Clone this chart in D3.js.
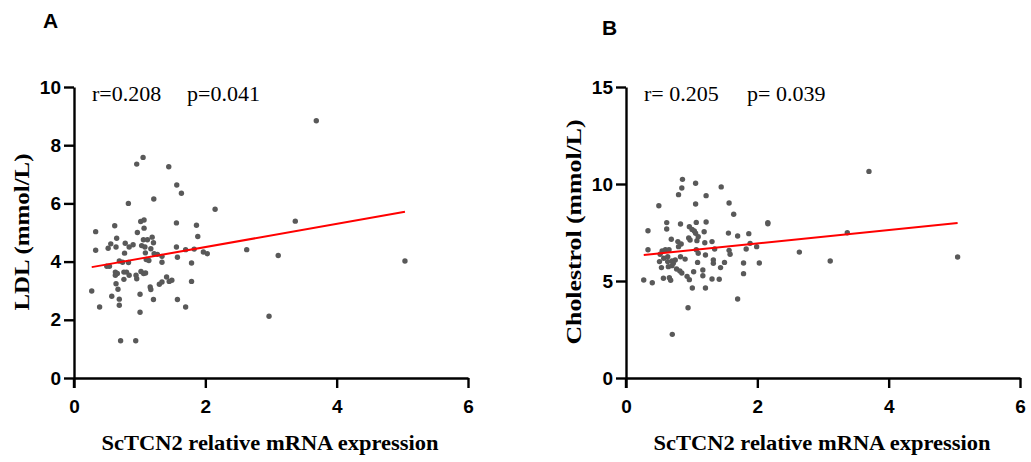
<!DOCTYPE html>
<html>
<head>
<meta charset="utf-8">
<script src="https://cdn.jsdelivr.net/npm/d3@7"></script>
<style>
  body { margin: 0; background: #fff; }
  svg { display: block; }
</style>
</head>
<body>
<script>
// LDL vs ScTCN2 (panel A)
const ldlX = [1.052,0.955,1.443,1.565,1.636,1.215,0.828,2.149,1.016,1.067,1.56,1.067,1.865,0.33,0.62,0.965,1.885,0.65,0.56,0.52,0.64,0.78,0.84,0.90,0.33,0.77,1.057,1.118,1.19,1.21,1.03,1.08,1.17,1.22,1.27,1.34,1.087,1.10,1.14,1.34,1.56,1.575,1.70,1.83,1.97,2.03,1.79,2.63,0.50,0.54,0.69,0.74,0.83,0.63,0.63,0.66,0.76,0.80,0.84,0.76,0.945,0.955,1.02,1.06,1.09,0.64,0.67,0.27,0.575,0.69,0.69,1.006,1.16,1.17,1.21,1.30,1.34,1.41,1.45,1.49,1.575,1.79,1.70,0.39,1.006,0.71,0.94,3.69,3.37,3.11,2.97,5.04];
const ldlY = [7.58,7.35,7.26,6.63,6.35,6.15,6.00,5.80,5.38,5.43,5.33,5.15,5.25,5.03,5.23,5.0,4.86,4.80,4.61,4.46,4.50,4.63,4.50,4.58,4.39,4.29,4.75,4.75,4.84,4.65,4.55,4.50,4.44,4.27,4.25,4.18,4.30,4.07,4.04,3.98,4.50,4.15,4.41,4.43,4.33,4.27,3.95,4.41,3.84,3.84,4.02,3.98,3.97,3.64,3.53,3.59,3.64,3.64,3.53,3.39,3.53,3.41,3.66,3.59,3.61,3.24,3.05,2.99,2.81,2.71,2.50,2.88,3.13,3.04,2.70,3.22,3.30,3.47,3.32,3.36,2.70,3.32,2.44,2.44,2.26,1.28,1.28,8.84,5.39,4.21,2.12,4.02];
const ldlFit = [[0.27, 3.81], [5.04, 5.71]];

// Cholestrol vs ScTCN2 (panel B)
const cholX = [0.86,1.06,0.85,1.45,0.80,1.22,0.50,1.06,1.57,1.64,0.62,0.62,0.83,1.07,1.22,0.335,0.965,1.006,1.04,1.06,1.19,1.56,1.70,1.87,0.69,0.79,0.84,0.955,0.976,1.08,1.10,1.20,1.31,1.89,0.335,0.55,0.60,0.655,0.80,1.07,1.10,1.21,1.35,1.57,1.585,1.83,1.99,0.52,0.575,0.635,0.51,0.635,0.70,0.75,0.54,0.645,0.70,0.77,0.82,0.85,0.72,0.83,0.90,1.03,1.09,1.17,1.17,1.33,1.33,1.44,1.50,1.31,1.42,0.93,0.965,0.57,0.66,0.68,0.27,0.40,1.01,1.21,1.79,1.79,2.03,1.70,0.945,0.705,2.16,2.16,2.64,3.11,3.37,3.70,5.05];
const cholY = [10.24,10.04,9.79,9.85,9.45,9.40,8.88,8.97,9.02,8.44,8.01,7.68,7.94,8.02,8.04,7.59,7.80,7.66,7.58,7.46,7.54,7.47,7.32,7.44,7.15,7.03,6.91,7.22,7.11,7.08,7.28,6.97,7.03,6.94,6.61,6.55,6.61,6.61,6.77,6.61,6.43,6.34,6.65,6.58,6.38,6.65,6.77,6.38,6.17,6.25,6.0,6.0,6.03,6.08,5.69,5.74,5.79,5.62,5.52,5.41,5.91,6.25,6.13,5.48,5.96,5.57,5.27,6.08,5.91,5.69,5.96,5.10,5.09,5.24,5.07,5.14,5.17,5.04,5.05,4.91,4.64,4.64,5.93,5.38,5.93,4.07,3.62,2.25,8.01,7.95,6.49,6.03,7.49,10.65,6.24];
const cholFit = [[0.27, 6.34], [5.05, 7.99]];

const xTicks = [0, 2, 4, 6];
const ldlTicks = [0, 2, 4, 6, 8, 10];
const cholTicks = [0, 5, 10, 15];

const width = 1031, height = 462;
const svg = d3.select('body').append('svg')
    .attr('width', width).attr('height', height);

function drawPanel(p) {
    const x = d3.scaleLinear().domain([0, 6]).range([p.left, p.left + 394]);
    const y = d3.scaleLinear().domain([0, p.ymax]).range([378, 87]);

    const g = svg.append('g');

    // axes
    const xAxis = g.append('g')
        .attr('transform', 'translate(0,378)')
        .call(d3.axisBottom(x).tickValues(xTicks).tickFormat(d3.format('d'))
            .tickSize(10).tickPadding(12).tickSizeOuter(0));
    const yAxis = g.append('g')
        .attr('transform', 'translate(' + p.left + ',0)')
        .call(d3.axisLeft(y).tickValues(p.ticks).tickFormat(d3.format('d'))
            .tickSize(10).tickPadding(3).tickSizeOuter(0));

    [xAxis, yAxis].forEach(a => {
        a.select('.domain').attr('stroke', '#000').attr('stroke-width', 2.4);
        a.selectAll('.tick line').attr('stroke', '#000').attr('stroke-width', 2.4);
        a.selectAll('.tick text')
            .style('font-family', 'Liberation Sans, Arial, sans-serif')
            .style('font-size', '19px')
            .style('font-weight', 700)
            .attr('fill', '#000');
    });
    // y axis runs a little below the x axis
    yAxis.append('line')
        .attr('x1', 0).attr('x2', 0).attr('y1', 378).attr('y2', 388)
        .attr('stroke', '#000').attr('stroke-width', 2.4);

    // points
    g.append('g')
        .selectAll('circle')
        .data(p.xs.map((d, i) => [d, p.ys[i]]))
        .join('circle')
        .attr('cx', d => x(d[0]))
        .attr('cy', d => y(d[1]))
        .attr('r', 2.7)
        .attr('fill', '#595959');

    // fit line
    g.append('path')
        .datum(p.fit)
        .attr('d', d3.line().x(d => x(d[0])).y(d => y(d[1])))
        .attr('stroke', '#ff0000')
        .attr('stroke-width', 2)
        .attr('fill', 'none');

    // stats text
    g.append('text')
        .attr('x', p.left + 18).attr('y', 101)
        .style('font-family', 'Liberation Serif, Times New Roman, serif')
        .style('font-size', '22px')
        .text(p.rText);
    g.append('text')
        .attr('x', p.pX).attr('y', 101)
        .style('font-family', 'Liberation Serif, Times New Roman, serif')
        .style('font-size', '22px')
        .text(p.pText);

    // panel letter
    g.append('text')
        .attr('x', p.letterX).attr('y', p.letterY)
        .style('font-family', 'Liberation Sans, Arial, sans-serif')
        .style('font-size', '21px')
        .style('font-weight', 700)
        .text(p.letter);

    // axis titles
    g.append('text')
        .attr('x', p.left + 196).attr('y', 450)
        .attr('text-anchor', 'middle')
        .attr('textLength', 337)
        .attr('lengthAdjust', 'spacingAndGlyphs')
        .style('font-family', 'Liberation Serif, Times New Roman, serif')
        .style('font-size', '22px')
        .style('font-weight', 700)
        .text('ScTCN2 relative mRNA expression');

    g.append('text')
        .attr('transform', 'translate(' + (p.left - 45) + ',232) rotate(-90)')
        .attr('text-anchor', 'middle')
        .attr('textLength', p.yLen)
        .attr('lengthAdjust', 'spacingAndGlyphs')
        .style('font-family', 'Liberation Serif, Times New Roman, serif')
        .style('font-size', '22px')
        .style('font-weight', 700)
        .text(p.yLabel);
}

drawPanel({
    left: 74, ymax: 10, ticks: ldlTicks, xs: ldlX, ys: ldlY, fit: ldlFit,
    rText: 'r=0.208', pText: 'p=0.041', pX: 187,
    letter: 'A', letterX: 43, letterY: 28,
    yLabel: 'LDL (mmol/L)', yLen: 157
});

drawPanel({
    left: 626, ymax: 15, ticks: cholTicks, xs: cholX, ys: cholY, fit: cholFit,
    rText: 'r= 0.205', pText: 'p= 0.039', pX: 747,
    letter: 'B', letterX: 602, letterY: 35,
    yLabel: 'Cholestrol (mmol/L)', yLen: 225
});
</script>
</body>
</html>
